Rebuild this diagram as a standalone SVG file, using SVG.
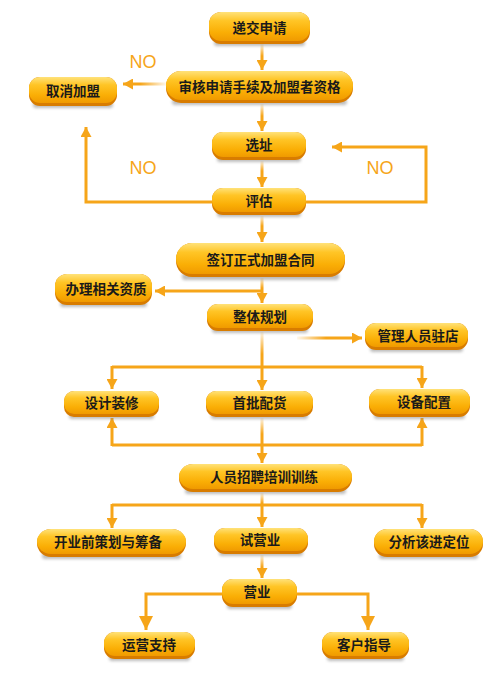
<svg xmlns="http://www.w3.org/2000/svg" width="500" height="679" viewBox="0 0 500 679">
<style>
.ln{fill:none;stroke:#F6A519;stroke-width:3}
.ar{fill:none;stroke:#F6A519;stroke-width:3;marker-end:url(#ah)}
.arb{fill:none;stroke:#F6A519;stroke-width:3;marker-end:url(#ahb)}
.sh{fill:#7a7a7a;opacity:.5;filter:url(#blur)}
.base{fill:#D87C00}
.main{fill:url(#gold)}
.t{font-family:"Noto Sans CJK SC","Noto Sans",sans-serif;font-weight:bold;font-size:13.5px;fill:#1a1a1a;text-anchor:middle}
.no{font-family:"Liberation Sans",Arial,sans-serif;font-size:18px;fill:#F6A519;text-anchor:middle}
.fv{fill:url(#fadeV)}
.fl{fill:url(#fadeL)}
.fr{fill:url(#fadeR)}
</style>
<defs>
<linearGradient id="gold" x1="0" y1="0" x2="0" y2="1">
<stop offset="0" stop-color="#FFE27A"/>
<stop offset="0.3" stop-color="#FFC526"/>
<stop offset="0.7" stop-color="#FAAE05"/>
<stop offset="1" stop-color="#F09A00"/>
</linearGradient>
<linearGradient id="fadeV" x1="0" y1="0" x2="0" y2="1">
<stop offset="0" stop-color="#fff" stop-opacity=".9"/>
<stop offset="1" stop-color="#fff" stop-opacity="0"/>
</linearGradient>
<linearGradient id="fadeL" x1="0" y1="0" x2="1" y2="0">
<stop offset="0" stop-color="#fff" stop-opacity=".95"/>
<stop offset="1" stop-color="#fff" stop-opacity="0"/>
</linearGradient>
<linearGradient id="fadeR" x1="1" y1="0" x2="0" y2="0">
<stop offset="0" stop-color="#fff" stop-opacity=".95"/>
<stop offset="1" stop-color="#fff" stop-opacity="0"/>
</linearGradient>
<filter id="blur" x="-20%" y="-100%" width="140%" height="300%">
<feGaussianBlur stdDeviation="1.6"/>
</filter>
<marker id="ah" markerUnits="userSpaceOnUse" markerWidth="11" markerHeight="11" refX="10" refY="5.5" orient="auto">
<path d="M0,0 L10,5.5 L0,11 Z" fill="#F6A519"/>
</marker>
<marker id="ahb" markerUnits="userSpaceOnUse" markerWidth="15" markerHeight="14" refX="14" refY="7" orient="auto">
<path d="M0,0 L14,7 L0,14 Z" fill="#F6A519"/>
</marker>
</defs>

<g id="connectors">
<path class="ar" d="M262,44 V70"/>
<path class="ar" d="M166,84 H123"/>
<path class="ar" d="M262,104 V131"/>
<path class="ar" d="M262,161 V187"/>
<path class="ar" d="M212,202 H86 V127"/>
<path class="ar" d="M306,202 H426 V147 H332"/>
<path class="ar" d="M262,216 V242"/>
<path class="ar" d="M262,278 V303"/>
<path class="ar" d="M262,291 H155"/>
<path class="ar" d="M297,338 H362"/>
<path class="ar" d="M262,332 V390"/>
<path class="ln" d="M112,367 H422"/>
<path class="ar" d="M112,366 V389"/>
<path class="ar" d="M422,366 V388"/>
<path class="ln" d="M112,445 H422"/>
<path class="ar" d="M112,446 V418"/>
<path class="ar" d="M422,446 V418"/>
<path class="ar" d="M262,418 V463"/>
<path class="ar" d="M262,493 V527"/>
<path class="ln" d="M112,505 H422"/>
<path class="ar" d="M112,504 V528"/>
<path class="ar" d="M422,504 V528"/>
<path class="ar" d="M262,555 V578"/>
<path class="arb" d="M222,594 H146 V630"/>
<path class="arb" d="M297,594 H368 V630"/>
<rect class="fv" x="259" y="44" width="6" height="12"/>
<rect class="fv" x="259" y="104" width="6" height="12"/>
<rect class="fv" x="259" y="161" width="6" height="10"/>
<rect class="fv" x="259" y="216" width="6" height="10"/>
<rect class="fv" x="259" y="278" width="6" height="10"/>
<rect class="fv" x="259" y="332" width="6" height="22"/>
<rect class="fv" x="259" y="418" width="6" height="16"/>
<rect class="fv" x="259" y="493" width="6" height="10"/>
<rect class="fv" x="259" y="555" width="6" height="12"/>
<rect class="fr" x="140" y="81" width="27" height="6"/>
<rect class="fl" x="296" y="335" width="30" height="6"/>
</g>

<text class="no" x="143" y="68">NO</text>
<text class="no" x="143" y="174">NO</text>
<text class="no" x="380" y="174">NO</text>

<g id="n1"><rect class="sh" x="214" y="40" width="91" height="6" rx="3"/><rect class="base" x="209" y="12" width="101" height="32" rx="12"/><rect class="main" x="209" y="12" width="101" height="29" rx="12"/><text class="t" x="259.5" y="33">递交申请</text></g>
<g id="n2"><rect class="sh" x="172" y="99" width="175" height="6" rx="3"/><rect class="base" x="166" y="71" width="187" height="32" rx="15"/><rect class="main" x="166" y="71" width="187" height="29" rx="15"/><text class="t" x="259.5" y="92">审核申请手续及加盟者资格</text></g>
<g id="n3"><rect class="sh" x="33" y="102" width="80" height="6" rx="3"/><rect class="base" x="29" y="77" width="88" height="29" rx="11"/><rect class="main" x="29" y="77" width="88" height="26" rx="11"/><text class="t" x="73" y="96">取消加盟</text></g>
<g id="n4"><rect class="sh" x="217" y="156" width="84" height="6" rx="3"/><rect class="base" x="212" y="132" width="94" height="28" rx="11"/><rect class="main" x="212" y="132" width="94" height="25" rx="11"/><text class="t" x="259" y="150">选址</text></g>
<g id="n5"><rect class="sh" x="217" y="211" width="84" height="6" rx="3"/><rect class="base" x="212" y="188" width="94" height="27" rx="11"/><rect class="main" x="212" y="188" width="94" height="24" rx="11"/><text class="t" x="259" y="206">评估</text></g>
<g id="n6"><rect class="sh" x="182" y="273" width="157" height="7" rx="3"/><rect class="base" x="176" y="243" width="169" height="34" rx="16"/><rect class="main" x="176" y="243" width="169" height="31" rx="16"/><text class="t" x="260.5" y="265">签订正式加盟合同</text></g>
<g id="n7"><rect class="sh" x="60" y="301" width="87" height="6" rx="3"/><rect class="base" x="55" y="274" width="97" height="31" rx="12"/><rect class="main" x="55" y="274" width="97" height="28" rx="12"/><text class="t" x="106" y="294">办理相关资质</text></g>
<g id="n8"><rect class="sh" x="212" y="327" width="96" height="6" rx="3"/><rect class="base" x="207" y="304" width="106" height="27" rx="11"/><rect class="main" x="207" y="304" width="106" height="24" rx="11"/><text class="t" x="260" y="322">整体规划</text></g>
<g id="n9"><rect class="sh" x="370" y="346" width="93" height="6" rx="3"/><rect class="base" x="365" y="323" width="103" height="27" rx="11"/><rect class="main" x="365" y="323" width="103" height="24" rx="11"/><text class="t" x="418" y="341">管理人员驻店</text></g>
<g id="n10"><rect class="sh" x="69" y="413" width="85" height="6" rx="3"/><rect class="base" x="64" y="391" width="95" height="26" rx="10"/><rect class="main" x="64" y="391" width="95" height="23" rx="10"/><text class="t" x="111.5" y="408">设计装修</text></g>
<g id="n11"><rect class="sh" x="211" y="413" width="97" height="6" rx="3"/><rect class="base" x="206" y="391" width="107" height="26" rx="10"/><rect class="main" x="206" y="391" width="107" height="23" rx="10"/><text class="t" x="259.5" y="408">首批配货</text></g>
<g id="n12"><rect class="sh" x="374" y="413" width="91" height="6" rx="3"/><rect class="base" x="369" y="389" width="101" height="28" rx="11"/><rect class="main" x="369" y="389" width="101" height="25" rx="11"/><text class="t" x="424" y="407">设备配置</text></g>
<g id="n13"><rect class="sh" x="185" y="488" width="161" height="6" rx="3"/><rect class="base" x="179" y="464" width="173" height="28" rx="14"/><rect class="main" x="179" y="464" width="173" height="25" rx="14"/><text class="t" x="264" y="482">人员招聘培训训练</text></g>
<g id="n14"><rect class="sh" x="42" y="553" width="139" height="6" rx="3"/><rect class="base" x="37" y="529" width="149" height="28" rx="14"/><rect class="main" x="37" y="529" width="149" height="25" rx="14"/><text class="t" x="108" y="547">开业前策划与筹备</text></g>
<g id="n15"><rect class="sh" x="219" y="550" width="84" height="6" rx="3"/><rect class="base" x="214" y="528" width="94" height="26" rx="11"/><rect class="main" x="214" y="528" width="94" height="23" rx="11"/><text class="t" x="260" y="545">试营业</text></g>
<g id="n16"><rect class="sh" x="379" y="553" width="99" height="6" rx="3"/><rect class="base" x="374" y="529" width="109" height="28" rx="13"/><rect class="main" x="374" y="529" width="109" height="25" rx="13"/><text class="t" x="429" y="547">分析该进定位</text></g>
<g id="n17"><rect class="sh" x="227" y="603" width="65" height="6" rx="3"/><rect class="base" x="222" y="579" width="75" height="28" rx="11"/><rect class="main" x="222" y="579" width="75" height="25" rx="11"/><text class="t" x="257" y="597">营业</text></g>
<g id="n18"><rect class="sh" x="109" y="655" width="81" height="6" rx="3"/><rect class="base" x="104" y="632" width="91" height="27" rx="11"/><rect class="main" x="104" y="632" width="91" height="24" rx="11"/><text class="t" x="149" y="650">运营支持</text></g>
<g id="n19"><rect class="sh" x="327" y="655" width="77" height="6" rx="3"/><rect class="base" x="322" y="632" width="87" height="27" rx="11"/><rect class="main" x="322" y="632" width="87" height="24" rx="11"/><text class="t" x="364" y="650">客户指导</text></g>
</svg>
